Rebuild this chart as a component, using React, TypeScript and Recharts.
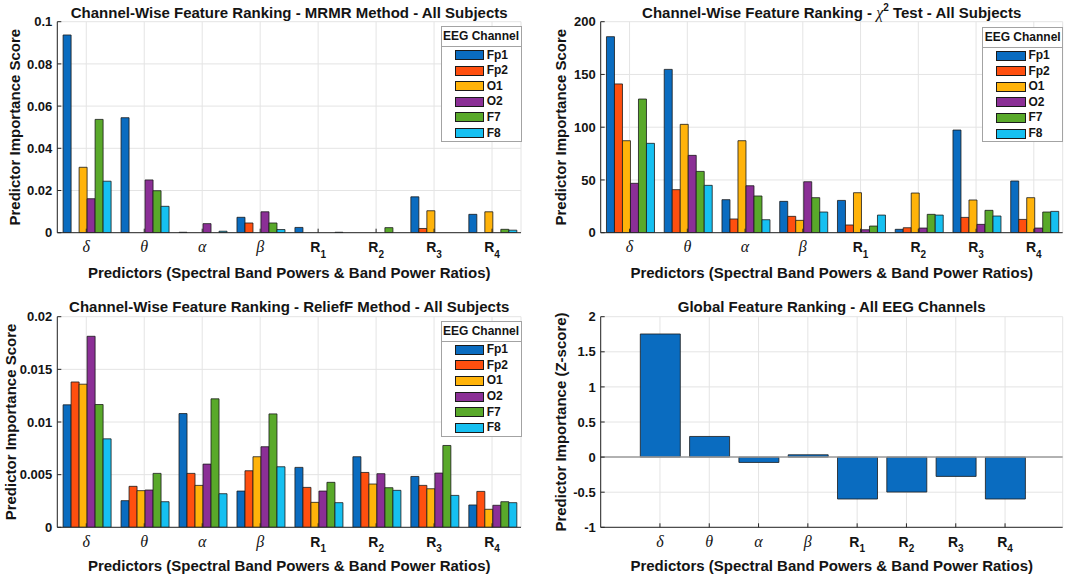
import React from 'react';
import { BarChart, Bar, XAxis, YAxis, CartesianGrid, Legend, ReferenceLine } from 'recharts';

// ---------- data ----------
const CATEGORIES = ['δ', 'θ', 'α', 'β', 'R1', 'R2', 'R3', 'R4'];
const CHANNELS = ['Fp1', 'Fp2', 'O1', 'O2', 'F7', 'F8'];
const CHANNEL_COLORS = ['#0a6cc0', '#ff4f0f', '#ffb30a', '#8b2f96', '#59a92a', '#16c0f1'];

// MRMR method
const MRMR_FP1 = [0.0937, 0.0545, 0.0002, 0.0073, 0.0025, 0, 0.017, 0.0087];
const MRMR_FP2 = [0, 0, 0, 0.0046, 0, 0, 0.002, 0];
const MRMR_O1 = [0.031, 0, 0, 0, 0, 0, 0.0104, 0.0099];
const MRMR_O2 = [0.0161, 0.025, 0.0043, 0.0099, 0, 0, 0, 0];
const MRMR_F7 = [0.0537, 0.0199, 0, 0.0046, 0, 0.0024, 0, 0.0016];
const MRMR_F8 = [0.0244, 0.0125, 0.0007, 0.0015, 0.0002, 0, 0, 0.0012];
const MRMR_TICKS = [0, 0.02, 0.04, 0.06, 0.08, 0.1];

// Chi-square test
const CHI_FP1 = [185.8, 154.8, 31.3, 29.7, 30.6, 3.2, 97.3, 49];
const CHI_FP2 = [141, 40.8, 13, 15.5, 7.3, 4.7, 14.5, 12.6];
const CHI_O1 = [87.2, 102.7, 87.2, 11.7, 37.9, 37.6, 31, 33.2];
const CHI_O2 = [46.8, 73.3, 44.5, 48.3, 2.8, 4.4, 7.9, 4.4];
const CHI_F7 = [126.7, 58.1, 34.8, 33.2, 6.3, 17.4, 21.2, 19.6];
const CHI_F8 = [84.7, 44.9, 12.3, 19.6, 16.7, 16.7, 15.8, 20.2];
const CHI_TICKS = [0, 50, 100, 150, 200];

// ReliefF method
const RELIEF_FP1 = [0.01163, 0.00253, 0.0108, 0.00344, 0.00569, 0.0067, 0.00483, 0.00212];
const RELIEF_FP2 = [0.0138, 0.00389, 0.00512, 0.00537, 0.00379, 0.00521, 0.00398, 0.00341];
const RELIEF_O1 = [0.01359, 0.00348, 0.00398, 0.0067, 0.00237, 0.00411, 0.00366, 0.00171];
const RELIEF_O2 = [0.01814, 0.00354, 0.006, 0.00765, 0.00344, 0.00509, 0.00515, 0.00209];
const RELIEF_F7 = [0.01166, 0.00512, 0.0122, 0.01077, 0.00427, 0.00376, 0.00777, 0.00243];
const RELIEF_F8 = [0.0084, 0.00243, 0.00319, 0.00575, 0.00234, 0.00351, 0.00303, 0.00234];
const RELIEF_TICKS = [0, 0.005, 0.01, 0.015, 0.02];

// Global ranking (z-score)
const GLOBAL_Z = [1.754, 0.294, -0.076, 0.033, -0.597, -0.498, -0.275, -0.597];
const GLOBAL_TICKS = [-1, -0.5, 0, 0.5, 1, 1.5, 2];

// ---------- helpers ----------
const SANS = "'Liberation Sans', Arial, Helvetica, sans-serif";
const SERIF = "'Liberation Serif', 'DejaVu Serif', 'Times New Roman', serif";
const AXIS = '#262626';
const GRID = '#e4e4e4';
const TEXT = '#141414';

function buildRows(series: number[][]) {
  return CATEGORIES.map((c, i) => {
    const row: Record<string, any> = { cat: c };
    CHANNELS.forEach((ch, j) => {
      row[ch] = series[j][i];
    });
    return row;
  });
}

// minor tick positions between major ticks (axis decoration only)
function minorTicks(lo: number, hi: number, step: number) {
  const out: number[] = [];
  const n = Math.round((hi - lo) / step);
  for (let k = 1; k < n; k++) out.push(+(lo + k * step).toFixed(6));
  return out;
}

const MRMR_ROWS = buildRows([MRMR_FP1, MRMR_FP2, MRMR_O1, MRMR_O2, MRMR_F7, MRMR_F8]);
const CHI_ROWS = buildRows([CHI_FP1, CHI_FP2, CHI_O1, CHI_O2, CHI_F7, CHI_F8]);
const RELIEF_ROWS = buildRows([RELIEF_FP1, RELIEF_FP2, RELIEF_O1, RELIEF_O2, RELIEF_F7, RELIEF_F8]);
const GLOBAL_ROWS = CATEGORIES.map((c, i) => ({ cat: c, z: GLOBAL_Z[i] }));

const CategoryTick = (props: any) => {
  const { x, y, payload } = props;
  const v = String(payload.value);
  const by = y + 15.5;
  if (v.startsWith('R')) {
    return (
      <text x={x} y={by} textAnchor="middle" fontFamily={SANS} fontWeight="bold" fontSize={14} fill={TEXT}>
        R
        <tspan fontSize={10} dy={5.5}>
          {v.slice(1)}
        </tspan>
      </text>
    );
  }
  return (
    <text x={x} y={by} textAnchor="middle" fontFamily={SERIF} fontStyle="italic" fontSize={16} fill={TEXT}>
      {v}
    </text>
  );
};

const yTickStyle = { fontSize: 13, fontWeight: 'bold', fill: TEXT, fontFamily: SANS };

const ChannelLegend = () => (
  <div
    style={{
      width: 81,
      boxSizing: 'border-box',
      border: '1px solid #a3a3a3',
      background: '#fff',
      fontFamily: SANS,
      fontWeight: 'bold',
      fontSize: 12,
      color: TEXT,
    }}
  >
    <div
      style={{
        height: 19,
        lineHeight: '19px',
        textAlign: 'center',
        borderBottom: '1px solid #a3a3a3',
        whiteSpace: 'nowrap',
      }}
    >
      EEG Channel
    </div>
    {CHANNELS.map((ch, j) => (
      <div key={ch} style={{ height: 15.6, display: 'flex', alignItems: 'center' }}>
        <div
          style={{
            marginLeft: 13.3,
            width: 29.5,
            height: 10,
            boxSizing: 'border-box',
            border: '1px solid #1a1a1a',
            background: CHANNEL_COLORS[j],
          }}
        />
        <span style={{ marginLeft: 2.4, lineHeight: '15px' }}>{ch}</span>
      </div>
    ))}
  </div>
);

type GroupProps = {
  rows: any[];
  domain: [number, number];
  ticks: number[];
  minorStep: number;
  width: number;
  height: number;
  yWidth: number;
  right: number;
  top: number;
  plotH: number;
  legendLeft: number;
  legendTop: number;
};

function BoxAxes(domain: [number, number], ticks: number[], minor: number[], padding?: { left: number; right: number }) {
  return [
    <XAxis
      key="xt"
      xAxisId="top"
      dataKey="cat"
      orientation="top"
      height={0}
      interval={0}
      padding={padding}
      tick={false}
      tickSize={-4}
      axisLine={{ stroke: AXIS, strokeWidth: 1 }}
      tickLine={{ stroke: AXIS }}
    />,
    <YAxis
      key="ym"
      yAxisId="minorLeft"
      orientation="left"
      mirror
      domain={domain}
      ticks={minor}
      interval={0}
      width={0}
      tick={false}
      tickSize={2.5}
      axisLine={false}
      tickLine={{ stroke: AXIS }}
      allowDataOverflow
    />,
    <YAxis
      key="yr"
      yAxisId="right"
      orientation="right"
      domain={domain}
      ticks={ticks}
      interval={0}
      width={0}
      tick={false}
      tickSize={-4}
      axisLine={{ stroke: AXIS, strokeWidth: 1 }}
      tickLine={{ stroke: AXIS }}
      allowDataOverflow
    />,
    <YAxis
      key="yrm"
      yAxisId="minorRight"
      orientation="right"
      mirror
      domain={domain}
      ticks={minor}
      interval={0}
      width={0}
      tick={false}
      tickSize={2.5}
      axisLine={false}
      tickLine={{ stroke: AXIS }}
      allowDataOverflow
    />,
  ];
}

function GroupPanel(p: GroupProps) {
  const minor = minorTicks(p.domain[0], p.domain[1], p.minorStep);
  return (
    <BarChart
      width={p.width}
      height={p.height}
      data={p.rows}
      margin={{ top: p.top, right: p.right, bottom: 0, left: 0 }}
      barCategoryGap="10%"
      barGap={0}
    >
      <CartesianGrid stroke={GRID} strokeWidth={1} />
      <XAxis
        dataKey="cat"
        height={p.height - p.top - p.plotH}
        interval={0}
        tick={<CategoryTick />}
        tickSize={-4}
        tickMargin={8}
        axisLine={{ stroke: AXIS, strokeWidth: 1 }}
        tickLine={{ stroke: AXIS }}
      />
      <YAxis
        domain={p.domain}
        ticks={p.ticks}
        interval={0}
        width={p.yWidth}
        tick={yTickStyle}
        tickSize={-4}
        tickMargin={9}
        axisLine={{ stroke: AXIS, strokeWidth: 1 }}
        tickLine={{ stroke: AXIS }}
        allowDataOverflow
      />
      {BoxAxes(p.domain, p.ticks, minor)}
      <Legend
        layout="vertical"
        align="center"
        verticalAlign="middle"
        wrapperStyle={{ left: p.legendLeft, top: p.legendTop, width: 81 }}
        content={() => <ChannelLegend />}
      />
      {CHANNELS.map((ch, j) => (
        <Bar
          key={ch}
          dataKey={ch}
          fill={CHANNEL_COLORS[j]}
          stroke="#1a1a1a"
          strokeWidth={0.8}
          isAnimationActive={false}
          legendType="rect"
        />
      ))}
    </BarChart>
  );
}

function GlobalPanel() {
  const width = 533;
  const height = 288;
  const top = 28.7;
  const plotH = 210.6;
  const pad = { left: 34.6, right: 33 };
  const domain: [number, number] = [-1, 2];
  return (
    <BarChart
      width={width}
      height={height}
      data={GLOBAL_ROWS}
      margin={{ top, right: 2.3, bottom: 0, left: 0 }}
      barSize={40}
    >
      <CartesianGrid stroke={GRID} strokeWidth={1} />
      <XAxis
        dataKey="cat"
        height={height - top - plotH}
        interval={0}
        padding={pad}
        tick={<CategoryTick />}
        tickSize={-4}
        tickMargin={8}
        axisLine={{ stroke: AXIS, strokeWidth: 1 }}
        tickLine={{ stroke: AXIS }}
      />
      <YAxis
        domain={domain}
        ticks={GLOBAL_TICKS}
        interval={0}
        width={68.7}
        tick={yTickStyle}
        tickSize={-4}
        tickMargin={9}
        axisLine={{ stroke: AXIS, strokeWidth: 1 }}
        tickLine={{ stroke: AXIS }}
        allowDataOverflow
      />
      {BoxAxes(domain, GLOBAL_TICKS, minorTicks(-1, 2, 0.1), pad)}
      <ReferenceLine y={0} stroke="#9c9c9c" strokeWidth={1.5} />
      <Bar dataKey="z" fill={CHANNEL_COLORS[0]} stroke="#1a1a1a" strokeWidth={0.8} isAnimationActive={false} />
    </BarChart>
  );
}

const titleStyle = { fontFamily: SANS, fontWeight: 'bold' as const, fontSize: 15, fill: TEXT };

export default function App() {
  const XLABEL = 'Predictors (Spectral Band Powers & Band Power Ratios)';
  return (
    <div style={{ position: 'absolute', left: 0, top: 0, width: 1065, height: 576, background: '#fff', overflow: 'hidden' }}>
      <div style={{ position: 'absolute', left: 0, top: 0 }}>
        <GroupPanel
          rows={MRMR_ROWS}
          domain={[0, 0.1]}
          ticks={MRMR_TICKS}
          minorStep={0.005}
          width={532}
          height={288}
          yWidth={57.3}
          right={11}
          top={21.7}
          plotH={211}
          legendLeft={440.5}
          legendTop={26.3}
        />
      </div>
      <div style={{ position: 'absolute', left: 532, top: 0 }}>
        <GroupPanel
          rows={CHI_ROWS}
          domain={[0, 200]}
          ticks={CHI_TICKS}
          minorStep={10}
          width={533}
          height={288}
          yWidth={68.7}
          right={2.3}
          top={21.7}
          plotH={211}
          legendLeft={450.2}
          legendTop={26.8}
        />
      </div>
      <div style={{ position: 'absolute', left: 0, top: 288 }}>
        <GroupPanel
          rows={RELIEF_ROWS}
          domain={[0, 0.02]}
          ticks={RELIEF_TICKS}
          minorStep={0.001}
          width={532}
          height={288}
          yWidth={57.3}
          right={11}
          top={28.7}
          plotH={210.6}
          legendLeft={440.5}
          legendTop={33}
        />
      </div>
      <div style={{ position: 'absolute', left: 532, top: 288 }}>
        <GlobalPanel />
      </div>
      <svg width={1065} height={576} style={{ position: 'absolute', left: 0, top: 0, pointerEvents: 'none' }}>
        {/* titles */}
        <text x={289.2} y={17.5} textAnchor="middle" {...titleStyle}>
          Channel-Wise Feature Ranking - MRMR Method - All Subjects
        </text>
        <text x={831.7} y={17.5} textAnchor="middle" {...titleStyle}>
          Channel-Wise Feature Ranking -{' '}
          <tspan fontFamily={SERIF} fontStyle="italic" fontWeight="normal" fontSize={16}>
            χ
          </tspan>
          <tspan fontSize={10} dy={-7}>
            2
          </tspan>
          <tspan dy={7}> Test - All Subjects</tspan>
        </text>
        <text x={289.2} y={312.3} textAnchor="middle" {...titleStyle}>
          Channel-Wise Feature Ranking - ReliefF Method - All Subjects
        </text>
        <text x={831.7} y={312.3} textAnchor="middle" {...titleStyle}>
          Global Feature Ranking - All EEG Channels
        </text>
        {/* x labels */}
        <text x={289.2} y={277.8} textAnchor="middle" {...titleStyle}>
          {XLABEL}
        </text>
        <text x={831.7} y={277.8} textAnchor="middle" {...titleStyle}>
          {XLABEL}
        </text>
        <text x={289.2} y={570.5} textAnchor="middle" {...titleStyle}>
          {XLABEL}
        </text>
        <text x={831.7} y={570.5} textAnchor="middle" {...titleStyle}>
          {XLABEL}
        </text>
        {/* y labels */}
        <text transform="translate(19.5,127.2) rotate(-90)" textAnchor="middle" {...titleStyle}>
          Predictor Importance Score
        </text>
        <text transform="translate(566,127.2) rotate(-90)" textAnchor="middle" {...titleStyle}>
          Predictor Importance Score
        </text>
        <text transform="translate(15.5,422) rotate(-90)" textAnchor="middle" {...titleStyle}>
          Predictor Importance Score
        </text>
        <text transform="translate(566,422) rotate(-90)" textAnchor="middle" {...titleStyle}>
          Predictor Importance (Z-score)
        </text>
      </svg>
    </div>
  );
}
